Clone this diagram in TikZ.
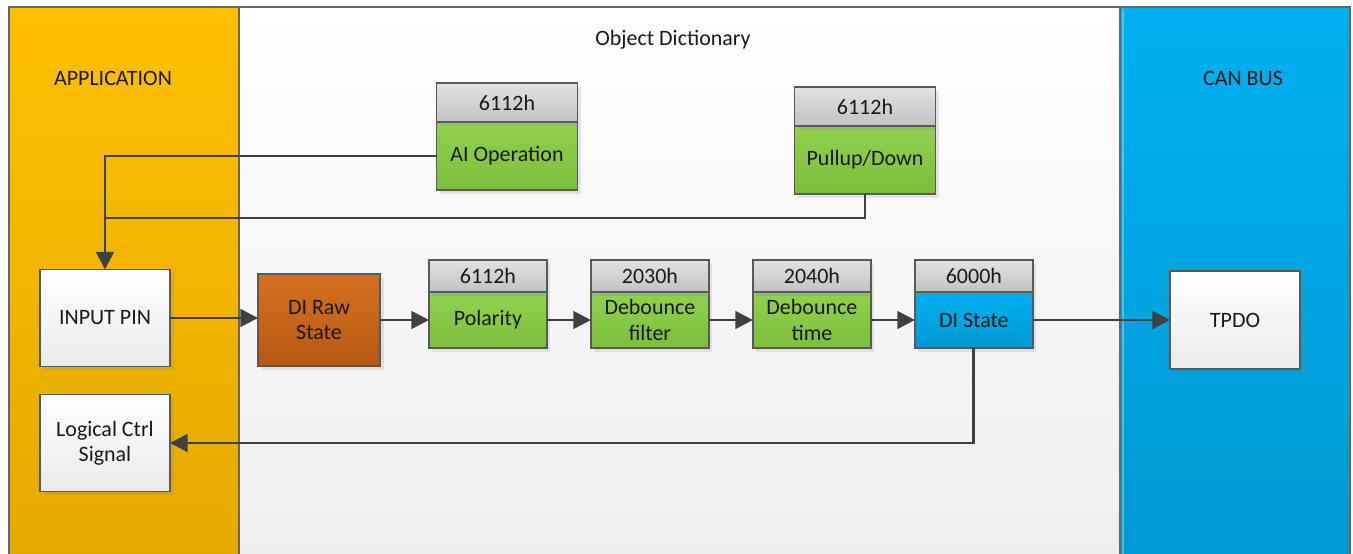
\documentclass[tikz,border=0pt]{standalone}
\usepackage{fontspec}
\setmainfont{Carlito}
\usetikzlibrary{arrows.meta,positioning,shadows}

\definecolor{appyel}{HTML}{FFC000}
\definecolor{appyeldk}{HTML}{E4A900}
\definecolor{odtop}{HTML}{FFFFFF}
\definecolor{odbot}{HTML}{EEEEEE}
\definecolor{canblue}{HTML}{00B0F0}
\definecolor{canbluedk}{HTML}{009AD2}
\definecolor{objgreen}{HTML}{92D050}
\definecolor{objgreendk}{HTML}{7BBF3C}
\definecolor{hdrtop}{HTML}{E2E2E2}
\definecolor{hdrbot}{HTML}{C2C2C2}
\definecolor{rawtop}{HTML}{D4711F}
\definecolor{rawbot}{HTML}{B65914}
\definecolor{wiretxt}{HTML}{404040}

\begin{document}
\begin{tikzpicture}[x=0.02cm,y=-0.02cm,>={Triangle[length=10pt,width=10pt]},
node distance=0.88cm,font=\fontsize{12.5}{14.5}\selectfont]
\tikzstyle{box}=[draw=black!65,line width=0.8pt,text=black!90,align=center,
  inner sep=0pt,outer sep=0pt,drop shadow={shadow xshift=2pt,shadow yshift=-2pt,opacity=0.18}]
\tikzstyle{hdr}=[box,top color=hdrtop,bottom color=hdrbot]
\tikzstyle{objbox}=[box,top color=objgreen,bottom color=objgreendk]
\tikzstyle{plainbox}=[box,top color=white,bottom color=black!8,minimum width=2.6cm]
\tikzstyle{wire}=[draw=wiretxt,line width=1.6pt]
\tikzstyle{lane}=[draw=black!60,line width=0.6pt]

% lanes
\useasboundingbox (0,0) rectangle (1353,554);
\shade[lane,top color=odtop,bottom color=odbot] (239,7) rectangle (1120,560);
\shade[lane,top color=appyel,bottom color=appyeldk] (9,7) rectangle (239,560);
\shade[lane,top color=canblue,bottom color=canbluedk] (1120,7) rectangle (1350,560);
\draw[white,opacity=0.3,line width=1.5pt] (1123,9) -- (1123,560);

\node[text=black!90] (applbl) at (113,78) {APPLICATION};
\node[text=black!90] (odlbl) at (673,40) {Object Dictionary};
\node[text=black!90] (canlbl) at (1243,78) {CAN BUS};

% application side
\node[plainbox,minimum height=1.94cm] (inpin) at (105,318) {INPUT PIN};
\node[plainbox,minimum height=1.94cm] (logic) at (105,443) {Logical Ctrl\\Signal};

% upper objects
\node[objbox,minimum width=2.82cm,minimum height=1.36cm] (aiop) at (507,156) {AI Operation};
\node[hdr,minimum width=2.82cm,minimum height=0.78cm,above=0pt of aiop] (aiophd) {6112h};
\node[objbox,minimum width=2.82cm,minimum height=1.36cm] (pull) at (865,160) {Pullup/Down};
\node[hdr,minimum width=2.82cm,minimum height=0.78cm,above=0pt of pull] (pullhd) {6112h};

% signal chain
\node[box,top color=rawtop,bottom color=rawbot,minimum width=2.44cm,minimum height=1.84cm] (raw) at (319,320) {DI Raw\\State};
\node[objbox,minimum width=2.36cm,minimum height=1.12cm,right=0.98cm of raw] (pol) {Polarity};
\node[hdr,minimum width=2.36cm,minimum height=0.64cm,above=0pt of pol] (polhd) {6112h};
\node[objbox,minimum width=2.36cm,minimum height=1.12cm,right=of pol] (filt) {Debounce\\filter};
\node[hdr,minimum width=2.36cm,minimum height=0.64cm,above=0pt of filt] (filthd) {2030h};
\node[objbox,minimum width=2.36cm,minimum height=1.12cm,right=of filt] (time) {Debounce\\time};
\node[hdr,minimum width=2.36cm,minimum height=0.64cm,above=0pt of time] (timehd) {2040h};
\node[box,top color=canblue,bottom color=canbluedk,minimum width=2.36cm,minimum height=1.12cm,right=of time] (state) {DI State};
\node[hdr,minimum width=2.36cm,minimum height=0.64cm,above=0pt of state] (statehd) {6000h};

% can bus side
\node[plainbox,minimum height=1.96cm] (tpdo) at (1235,320) {TPDO};

\coordinate (jn) at (inpin.north |- 0,218);

\draw[wire,->] (aiop.west) -| (inpin.north);
\draw[wire] (pull.south) |- (jn);
\draw[wire,->] (inpin.east) -- (inpin.east -| raw.west);
\draw[wire,->] (raw) -- (pol);
\draw[wire,->] (pol) -- (filt);
\draw[wire,->] (filt) -- (time);
\draw[wire,->] (time) -- (state);
\draw[wire,->] (state.east) -- (tpdo.west);
\draw[wire,->] (state.south) |- (logic.east);
\end{tikzpicture}
\end{document}
